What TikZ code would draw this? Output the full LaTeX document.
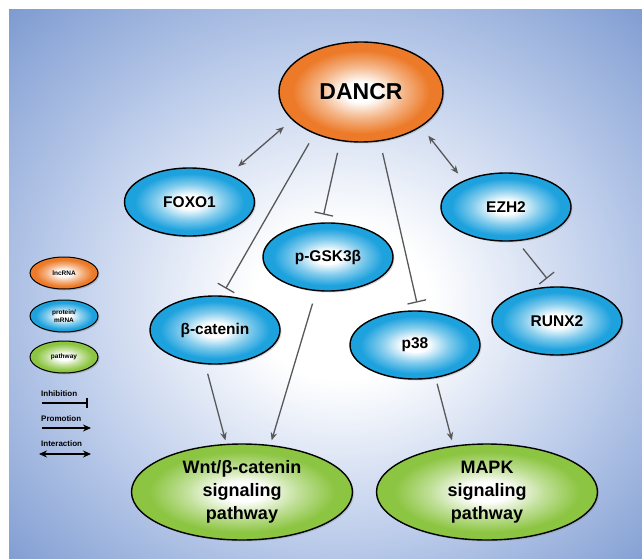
\documentclass[tikz,border=0pt]{standalone}
\usepackage{fontspec}
\setmainfont{Liberation Sans}
\usetikzlibrary{shapes.geometric,arrows.meta,shadows}

\definecolor{dancrorange}{RGB}{236,122,40}
\definecolor{protblue}{RGB}{30,162,222}
\definecolor{pathgreen}{RGB}{140,197,66}
\definecolor{bgout}{RGB}{122,152,207}
\definecolor{bgmid}{RGB}{184,201,233}
\definecolor{linkgray}{RGB}{88,88,88}
\colorlet{orangemid}{dancrorange!55!white}
\colorlet{bluemid}{protblue!55!white}
\colorlet{greenmid}{pathgreen!55!white}

\pgfdeclareradialshading{orangeball}{\pgfpoint{0bp}{0bp}}{color(0bp)=(white); color(5bp)=(white); color(13bp)=(orangemid); color(21bp)=(dancrorange); color(50bp)=(dancrorange)}
\pgfdeclareradialshading{blueball}{\pgfpoint{0bp}{0bp}}{color(0bp)=(white); color(5bp)=(white); color(13bp)=(bluemid); color(21bp)=(protblue); color(50bp)=(protblue)}
\pgfdeclareradialshading{greenball}{\pgfpoint{0bp}{0bp}}{color(0bp)=(white); color(5bp)=(white); color(13bp)=(greenmid); color(21bp)=(pathgreen); color(50bp)=(pathgreen)}
\pgfdeclareradialshading{bgshade}{\pgfpoint{1.5bp}{-2bp}}{color(0bp)=(white); color(7bp)=(white); color(23bp)=(bgmid); color(37bp)=(bgout); color(50bp)=(bgout)}

\tikzset{
  ballbase/.style={ellipse, draw=black, line width=1.4pt, inner sep=0pt, text=black, align=center,
    drop shadow={opacity=0.3, shadow xshift=1.5pt, shadow yshift=-1.5pt}},
  lncnode/.style={ballbase, shade, shading=orangeball},
  protnode/.style={ballbase, shade, shading=blueball, minimum width=130pt, minimum height=68pt,
    font=\fontsize{15.5}{18}\selectfont\bfseries},
  pathwaynode/.style={ballbase, shade, shading=greenball, minimum width=221pt, minimum height=96pt,
    font=\fontsize{18}{22.7}\selectfont\bfseries},
  legball/.style={line width=1pt, minimum width=68pt, minimum height=32pt,
    font=\fontsize{6.5}{7.5}\selectfont\bfseries,
    drop shadow={opacity=0.3, shadow xshift=1pt, shadow yshift=-1pt}},
  legtext/.style={anchor=west, inner sep=0pt, font=\fontsize{8}{9}\selectfont\bfseries},
  linkbase/.style={draw=linkgray, line width=1.3pt},
  inhib/.style={linkbase, -{Bar[width=19pt, line width=1.3pt]}},
  promo/.style={linkbase, -{Stealth[length=8pt, width=6.5pt]}},
  interact/.style={linkbase, {Stealth[length=8pt, width=6.5pt]}-{Stealth[length=8pt, width=6.5pt]}},
  leginhib/.style={draw=black, line width=1.6pt, -{Bar[width=10pt, line width=1.6pt]}},
  legpromo/.style={draw=black, line width=1.6pt, -{Stealth[length=8pt, width=7pt]}},
  leginteract/.style={draw=black, line width=1.6pt, {Stealth[length=8pt, width=7pt]}-{Stealth[length=8pt, width=7pt]}},
}

\begin{document}
\begin{tikzpicture}[x=1pt, y=-1pt]
  \useasboundingbox (0,0) rectangle (642,559);
  \shade[shading=bgshade] (9,10) rectangle (642,559);

  % main nodes
  \node[lncnode, minimum width=164pt, minimum height=100pt,
        font=\fontsize{23}{26}\selectfont\bfseries] (dancr) at (361,92) {DANCR};
  \node[protnode] (foxo) at (189.5,202) {FOXO1};
  \node[protnode] (pgsk) at (328,257) {p-GSK3β};
  \node[protnode] (ezh) at (506,207) {EZH2};
  \node[protnode] (bcat) at (215,330) {β-catenin};
  \node[protnode] (ptt) at (415,345) {p38};
  \node[protnode] (runx) at (557,321) {RUNX2};
  \node[pathwaynode] (wnt) at (242,492) {Wnt/β-catenin\\signaling\\pathway};
  \node[pathwaynode] (mapk) at (487,492) {MAPK\\signaling\\pathway};

  % connectors
  \draw[inhib, shorten <=11pt, shorten >=8pt] (dancr.222) -- (bcat.79);
  \draw[inhib, shorten <=12pt, shorten >=8pt] (dancr.247) -- (pgsk.100);
  \draw[inhib, shorten <=12pt, shorten >=8pt] (dancr.291) -- (ptt.84);
  \draw[interact, shorten <=10.7pt, shorten >=12pt] (dancr.202) -- (foxo.35);
  \draw[interact, shorten <=11.4pt, shorten >=8.8pt] (dancr.330) -- (ezh.148);
  \draw[inhib, shorten <=9.5pt, shorten >=10pt] (ezh.288) -- (runx.96);
  \draw[promo, shorten <=9.7pt, shorten >=3.5pt] (bcat.254) -- (wnt.108);
  \draw[promo, shorten <=13pt, shorten >=4.7pt] (pgsk.251) -- (wnt.59);
  \draw[promo, shorten <=6pt, shorten >=5.5pt] (ptt.302) -- (mapk.126);

  % legend
  \node[lncnode, legball] (leglnc) at (64,273) {lncRNA};
  \node[protnode, legball] (legprot) at (64,316) {protein/\\mRNA};
  \node[pathwaynode, legball] (legpath) at (64,357) {pathway};

  \node[legtext] (txinhib) at (41,394) {Inhibition};
  \coordinate (inhA) at (42,403);
  \coordinate (inhB) at (88,403);
  \draw[leginhib] (inhA) -- (inhB);

  \node[legtext] (txpromo) at (41,419) {Promotion};
  \coordinate (proA) at (42,428);
  \coordinate (proB) at (91,428);
  \draw[legpromo] (proA) -- (proB);

  \node[legtext] (txinter) at (41,444) {Interaction};
  \coordinate (intA) at (39,454);
  \coordinate (intB) at (91,454);
  \draw[leginteract] (intA) -- (intB);
\end{tikzpicture}
\end{document}
